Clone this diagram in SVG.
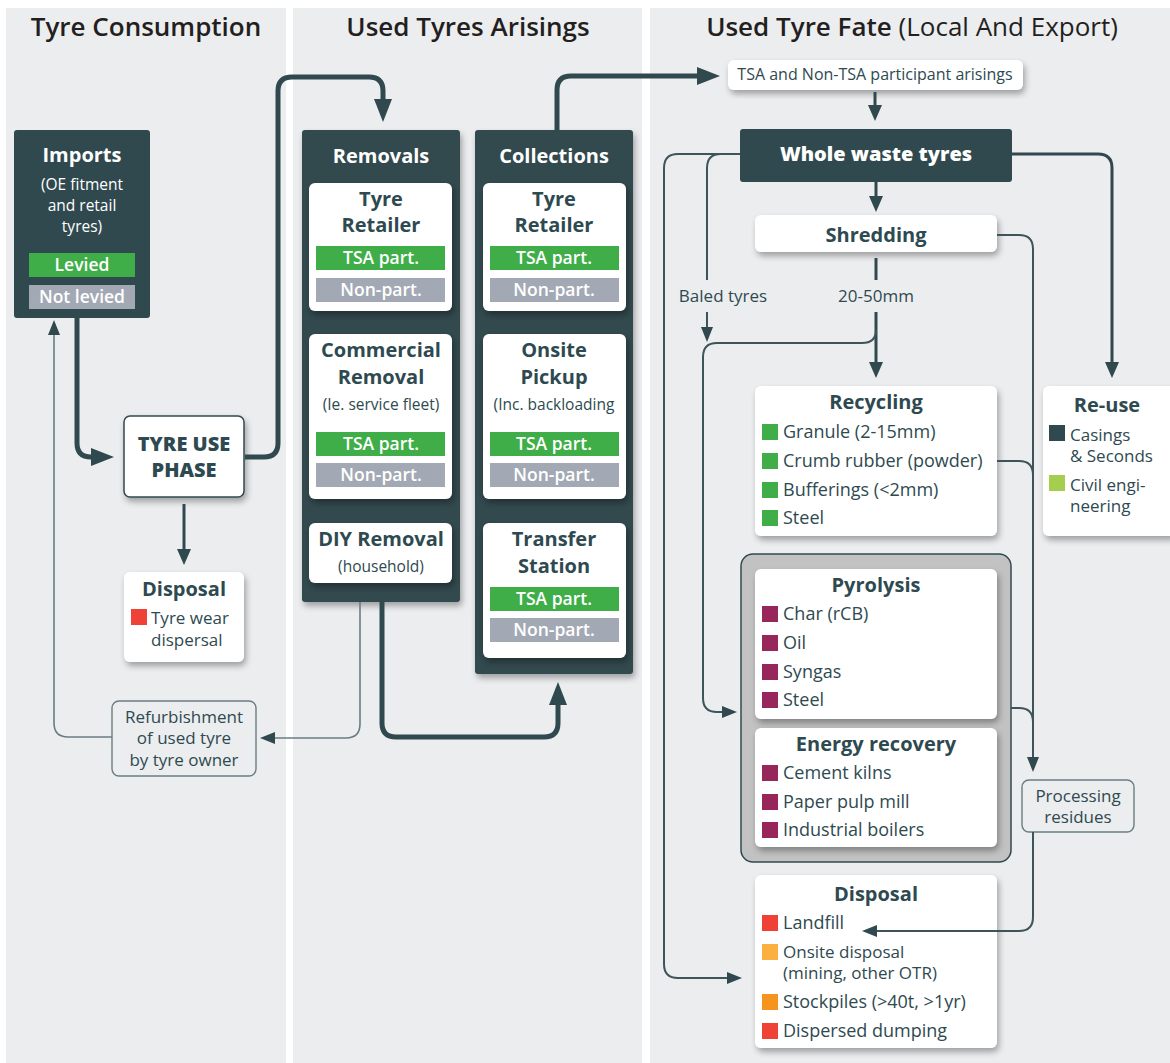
<svg xmlns="http://www.w3.org/2000/svg" width="1170" height="1063" viewBox="0 0 1170 1063" font-family="'Open Sans', 'Liberation Sans', sans-serif">
<style>
.panel{fill:#ECEDEF}
.title{font-size:26px;font-weight:600;fill:#231F20;text-anchor:middle}
.card{fill:#FFFFFF;filter:url(#sh)}
.dark{fill:#30494E}
.h{font-size:20px;font-weight:700;fill:#2E4A50;text-anchor:middle}
.hw{font-size:20px;font-weight:700;fill:#FFFFFF;text-anchor:middle}
.sub{font-size:15.5px;fill:#2E4A50;text-anchor:middle}
.t{font-size:18px;fill:#2E4A50}
.t2{font-size:17px;fill:#2E4A50}
.tc{font-size:17px;fill:#2E4A50;text-anchor:middle}
.lbl{font-size:17px;fill:#2E4A50;text-anchor:middle}
.bt{font-size:17.5px;font-weight:600;fill:#FFFFFF;text-anchor:middle}
.bg{fill:#3FAE49}
.bn{fill:#A3A9B4}
.thick{fill:none;stroke:#30494E;stroke-width:5}
.med{fill:none;stroke:#30494E;stroke-width:3}
.thin{fill:none;stroke:#3D555A;stroke-width:2}
.thing{fill:none;stroke:#6A7D82;stroke-width:1.6}
.sq-g{fill:#3FAE49}.sq-p{fill:#97265A}.sq-r{fill:#EF4136}.sq-lo{fill:#FBB040}.sq-o{fill:#F7941D}.sq-d{fill:#30494E}.sq-l{fill:#A6CE4E}
</style>
<defs>
<filter id="sh" x="-10%" y="-10%" width="130%" height="140%"><feDropShadow dx="2" dy="4" stdDeviation="3" flood-color="#000" flood-opacity="0.33"/></filter>
<marker id="aB" markerWidth="24" markerHeight="18" refX="6" refY="9" orient="auto" markerUnits="userSpaceOnUse"><path d="M0,0 L23,9 L0,18 z" fill="#30494E"/></marker>
<marker id="aM" markerWidth="16" markerHeight="14" refX="4" refY="7" orient="auto" markerUnits="userSpaceOnUse"><path d="M0,0 L16,7 L0,14 z" fill="#30494E"/></marker>
<marker id="aS" markerWidth="15" markerHeight="12" refX="3" refY="6" orient="auto" markerUnits="userSpaceOnUse"><path d="M0,0 L15,6 L0,12 z" fill="#30494E"/></marker>
<marker id="aG" markerWidth="15" markerHeight="12" refX="3" refY="6" orient="auto" markerUnits="userSpaceOnUse"><path d="M0,0 L15,6 L0,12 z" fill="#30494E"/></marker>
</defs>
<rect width="1170" height="1063" fill="#FFFFFF"/>
<g id="columns">
<rect class="panel" x="6" y="8" width="280" height="1055"/>
<rect class="panel" x="293" y="8" width="349" height="1055"/>
<rect class="panel" x="650" y="8" width="520" height="1055"/>
<text class="title" x="146" y="36">Tyre Consumption</text>
<text class="title" x="468" y="36">Used Tyres Arisings</text>
<text class="title" x="912" y="36">Used Tyre Fate <tspan font-weight="400">(Local And Export)</tspan></text>
</g>
<g id="imports">
<rect class="dark" x="14" y="130" width="136" height="188" rx="3"/>
<text class="hw" x="82" y="162">Imports</text>
<text x="82" y="190" font-size="15.5" fill="#FFFFFF" text-anchor="middle">(OE fitment</text>
<text x="82" y="211" font-size="15.5" fill="#FFFFFF" text-anchor="middle">and retail</text>
<text x="82" y="232" font-size="15.5" fill="#FFFFFF" text-anchor="middle">tyres)</text>
<rect class="bg" x="29" y="253" width="106" height="24"/>
<text class="bt" x="82" y="271" font-size="18">Levied</text>
<rect class="bn" x="29" y="285" width="106" height="24"/>
<text class="bt" x="82" y="303" font-size="18">Not levied</text>
</g>
<g id="tyre-use">
<rect x="124" y="416" width="120" height="81" rx="6" fill="#FFFFFF" stroke="#30494E" stroke-width="1.5" filter="url(#sh)"/>
<text x="184" y="451" font-size="20" font-weight="800" fill="#2E4A50" text-anchor="middle">TYRE USE</text>
<text x="184" y="477" font-size="20" font-weight="800" fill="#2E4A50" text-anchor="middle">PHASE</text>
</g>
<g id="disposal-use">
<rect class="card" x="124" y="572" width="120" height="90" rx="6"/>
<text class="h" x="184" y="596">Disposal</text>
<rect class="sq-r" x="131" y="609" width="16" height="16"/>
<text class="t2" x="151" y="624">Tyre wear</text>
<text class="t2" x="151" y="646">dispersal</text>
</g>
<g id="refurbishment">
<rect x="112" y="701" width="144" height="75" rx="7" fill="#ECEDEF" stroke="#6A7D82" stroke-width="1.4"/>
<text class="tc" x="184" y="723">Refurbishment</text>
<text class="tc" x="184" y="744">of used tyre</text>
<text class="tc" x="184" y="766">by tyre owner</text>
</g>
<g id="removals">
<rect class="dark" x="302" y="130" width="158" height="472" rx="3" filter="url(#sh)"/>
<text class="hw" x="381" y="163">Removals</text>
<rect class="card" x="309" y="183" width="143" height="128" rx="6"/>
<text class="h" x="381" y="206">Tyre</text>
<text class="h" x="381" y="232">Retailer</text>
<rect class="bg" x="316" y="246" width="129" height="24"/>
<text class="bt" x="381" y="264">TSA part.</text>
<rect class="bn" x="316" y="278" width="129" height="24"/>
<text class="bt" x="381" y="296">Non-part.</text>
<rect class="card" x="309" y="334" width="143" height="165" rx="6"/>
<text class="h" x="381" y="357">Commercial</text>
<text class="h" x="381" y="384">Removal</text>
<text class="sub" x="381" y="410">(Ie. service fleet)</text>
<rect class="bg" x="316" y="432" width="129" height="24"/>
<text class="bt" x="381" y="450">TSA part.</text>
<rect class="bn" x="316" y="463" width="129" height="24"/>
<text class="bt" x="381" y="481">Non-part.</text>
<rect class="card" x="309" y="523" width="143" height="60" rx="6"/>
<text class="h" x="381" y="546">DIY Removal</text>
<text class="sub" x="381" y="572">(household)</text>
</g>
<g id="collections">
<rect class="dark" x="475" y="130" width="158" height="544" rx="3" filter="url(#sh)"/>
<text class="hw" x="554" y="163">Collections</text>
<rect class="card" x="483" y="183" width="143" height="128" rx="6"/>
<text class="h" x="554" y="206">Tyre</text>
<text class="h" x="554" y="232">Retailer</text>
<rect class="bg" x="490" y="246" width="129" height="24"/>
<text class="bt" x="554" y="264">TSA part.</text>
<rect class="bn" x="490" y="278" width="129" height="24"/>
<text class="bt" x="554" y="296">Non-part.</text>
<rect class="card" x="483" y="334" width="143" height="165" rx="6"/>
<text class="h" x="554" y="357">Onsite</text>
<text class="h" x="554" y="384">Pickup</text>
<text class="sub" x="554" y="410">(Inc. backloading</text>
<rect class="bg" x="490" y="432" width="129" height="24"/>
<text class="bt" x="554" y="450">TSA part.</text>
<rect class="bn" x="490" y="463" width="129" height="24"/>
<text class="bt" x="554" y="481">Non-part.</text>
<rect class="card" x="483" y="523" width="143" height="135" rx="6"/>
<text class="h" x="554" y="546">Transfer</text>
<text class="h" x="554" y="573">Station</text>
<rect class="bg" x="490" y="587" width="129" height="24"/>
<text class="bt" x="554" y="605">TSA part.</text>
<rect class="bn" x="490" y="618" width="129" height="24"/>
<text class="bt" x="554" y="636">Non-part.</text>
</g>
<g id="arisings">
<rect class="card" x="728" y="60" width="295" height="30" rx="6"/>
<text x="875" y="80" font-size="16" fill="#2E4A50" text-anchor="middle">TSA and Non-TSA participant arisings</text>
</g>
<g id="whole-waste">
<rect class="dark" x="740" y="129" width="272" height="53" rx="3"/>
<text x="876" y="161" font-size="20" font-weight="800" fill="#FFFFFF" text-anchor="middle">Whole waste tyres</text>
</g>
<g id="shredding">
<rect class="card" x="755" y="215" width="242" height="37" rx="6"/>
<text class="h" x="876" y="242">Shredding</text>
</g>
<g id="recycling">
<rect class="card" x="755" y="386" width="242" height="150" rx="6"/>
<text class="h" x="876" y="409">Recycling</text>
<rect class="sq-g" x="762" y="424" width="16" height="16"/><text class="t" x="783" y="438">Granule (2-15mm)</text>
<rect class="sq-g" x="762" y="453" width="16" height="16"/><text class="t" x="783" y="467">Crumb rubber (powder)</text>
<rect class="sq-g" x="762" y="482" width="16" height="16"/><text class="t" x="783" y="496">Bufferings (&lt;2mm)</text>
<rect class="sq-g" x="762" y="510" width="16" height="16"/><text class="t" x="783" y="524">Steel</text>
</g>
<g id="reuse">
<rect class="card" x="1043" y="386" width="135" height="150" rx="6"/>
<text class="h" x="1107" y="412">Re-use</text>
<rect class="sq-d" x="1049" y="425" width="16" height="16"/>
<text class="t2" x="1070" y="441">Casings</text>
<text class="t2" x="1070" y="462">&amp; Seconds</text>
<rect class="sq-l" x="1049" y="475" width="16" height="16"/>
<text class="t2" x="1070" y="491">Civil engi-</text>
<text class="t2" x="1070" y="512">neering</text>
</g>
<g id="thermal-group">
<rect x="741" y="554" width="270" height="308" rx="12" fill="#C2C2C2" stroke="#30494E" stroke-width="1.5"/>
</g>
<g id="pyrolysis">
<rect class="card" x="755" y="569" width="242" height="150" rx="6"/>
<text class="h" x="876" y="592">Pyrolysis</text>
<rect class="sq-p" x="762" y="606" width="16" height="16"/><text class="t" x="783" y="620">Char (rCB)</text>
<rect class="sq-p" x="762" y="635" width="16" height="16"/><text class="t" x="783" y="649">Oil</text>
<rect class="sq-p" x="762" y="664" width="16" height="16"/><text class="t" x="783" y="678">Syngas</text>
<rect class="sq-p" x="762" y="692" width="16" height="16"/><text class="t" x="783" y="706">Steel</text>
</g>
<g id="energy-recovery">
<rect class="card" x="755" y="728" width="242" height="119" rx="6"/>
<text class="h" x="876" y="751">Energy recovery</text>
<rect class="sq-p" x="762" y="765" width="16" height="16"/><text class="t" x="783" y="779">Cement kilns</text>
<rect class="sq-p" x="762" y="794" width="16" height="16"/><text class="t" x="783" y="808">Paper pulp mill</text>
<rect class="sq-p" x="762" y="822" width="16" height="16"/><text class="t" x="783" y="836">Industrial boilers</text>
</g>
<g id="processing-residues">
<rect x="1022" y="780" width="112" height="52" rx="7" fill="#ECEDEF" stroke="#6A7D82" stroke-width="1.4"/>
<text class="tc" x="1078" y="802">Processing</text>
<text class="tc" x="1078" y="823">residues</text>
</g>
<g id="disposal-fate">
<rect class="card" x="755" y="875" width="242" height="173" rx="6"/>
<text class="h" x="876" y="901">Disposal</text>
<rect class="sq-r" x="762" y="915" width="16" height="16"/><text class="t" x="783" y="929">Landfill</text>
<rect class="sq-lo" x="762" y="944" width="16" height="16"/><text class="t2" x="783" y="958">Onsite disposal</text>
<text class="t2" x="783" y="979">(mining, other OTR)</text>
<rect class="sq-o" x="762" y="994" width="16" height="16"/><text class="t" x="783" y="1008">Stockpiles (&gt;40t, &gt;1yr)</text>
<rect class="sq-r" x="762" y="1023" width="16" height="16"/><text class="t" x="783" y="1037">Dispersed dumping</text>
</g>
<g id="connectors">
<path class="thick" d="M77,318 V443 Q77,457 91,457 H97" marker-end="url(#aB)"/>
<path class="thick" d="M245,457 H264 Q278,457 278,443 V91 Q278,77 292,77 H369 Q383,77 383,91 V105" marker-end="url(#aB)"/>
<path class="thick" d="M557,130 V90 Q557,76 571,76 H703" marker-end="url(#aB)"/>
<path class="thick" d="M382,602 V723 Q382,737 396,737 H544 Q558,737 558,723 V699" marker-end="url(#aB)"/>
<path class="thing" d="M360,602 V724 Q360,738 346,738 H272" marker-end="url(#aG)"/>
<path class="thing" d="M112,737 H68 Q54,737 54,723 V332" marker-end="url(#aG)"/>
<path class="med" d="M184,504 V553" marker-end="url(#aM)"/>
<path class="med" d="M875,92 V109" marker-end="url(#aM)"/>
<path class="med" d="M876,182 V200" marker-end="url(#aM)"/>
<path class="med" d="M876,258 V280"/>
<path class="med" d="M876,312 V366" marker-end="url(#aM)"/>
<path class="thin" d="M876,330 Q876,343 862,343 H717 Q703,343 703,357 V698 Q703,712 717,712 H725" marker-end="url(#aS)"/>
<path class="thin" d="M740,154 H721 Q707,154 707,168 V280"/>
<path class="thin" d="M707,312 V330" marker-end="url(#aS)"/>
<path class="thin" d="M740,154 H678 Q664,154 664,168 V964 Q664,978 678,978 H730" marker-end="url(#aS)"/>
<path class="med" d="M1012,154 H1098 Q1112,154 1112,168 V366" marker-end="url(#aM)"/>
<path class="thin" d="M997,235 H1019 Q1033,235 1033,249 V760" marker-end="url(#aS)"/>
<path class="thin" d="M997,461 H1019 Q1033,461 1033,475"/>
<path class="thin" d="M1011,708 H1019 Q1033,708 1033,722"/>
<path class="thin" d="M1033,832 V917 Q1033,931 1019,931 H874" marker-end="url(#aS)"/>
<text class="lbl" x="723" y="302">Baled tyres</text>
<text class="lbl" x="876" y="302">20-50mm</text>
</g>
</svg>
